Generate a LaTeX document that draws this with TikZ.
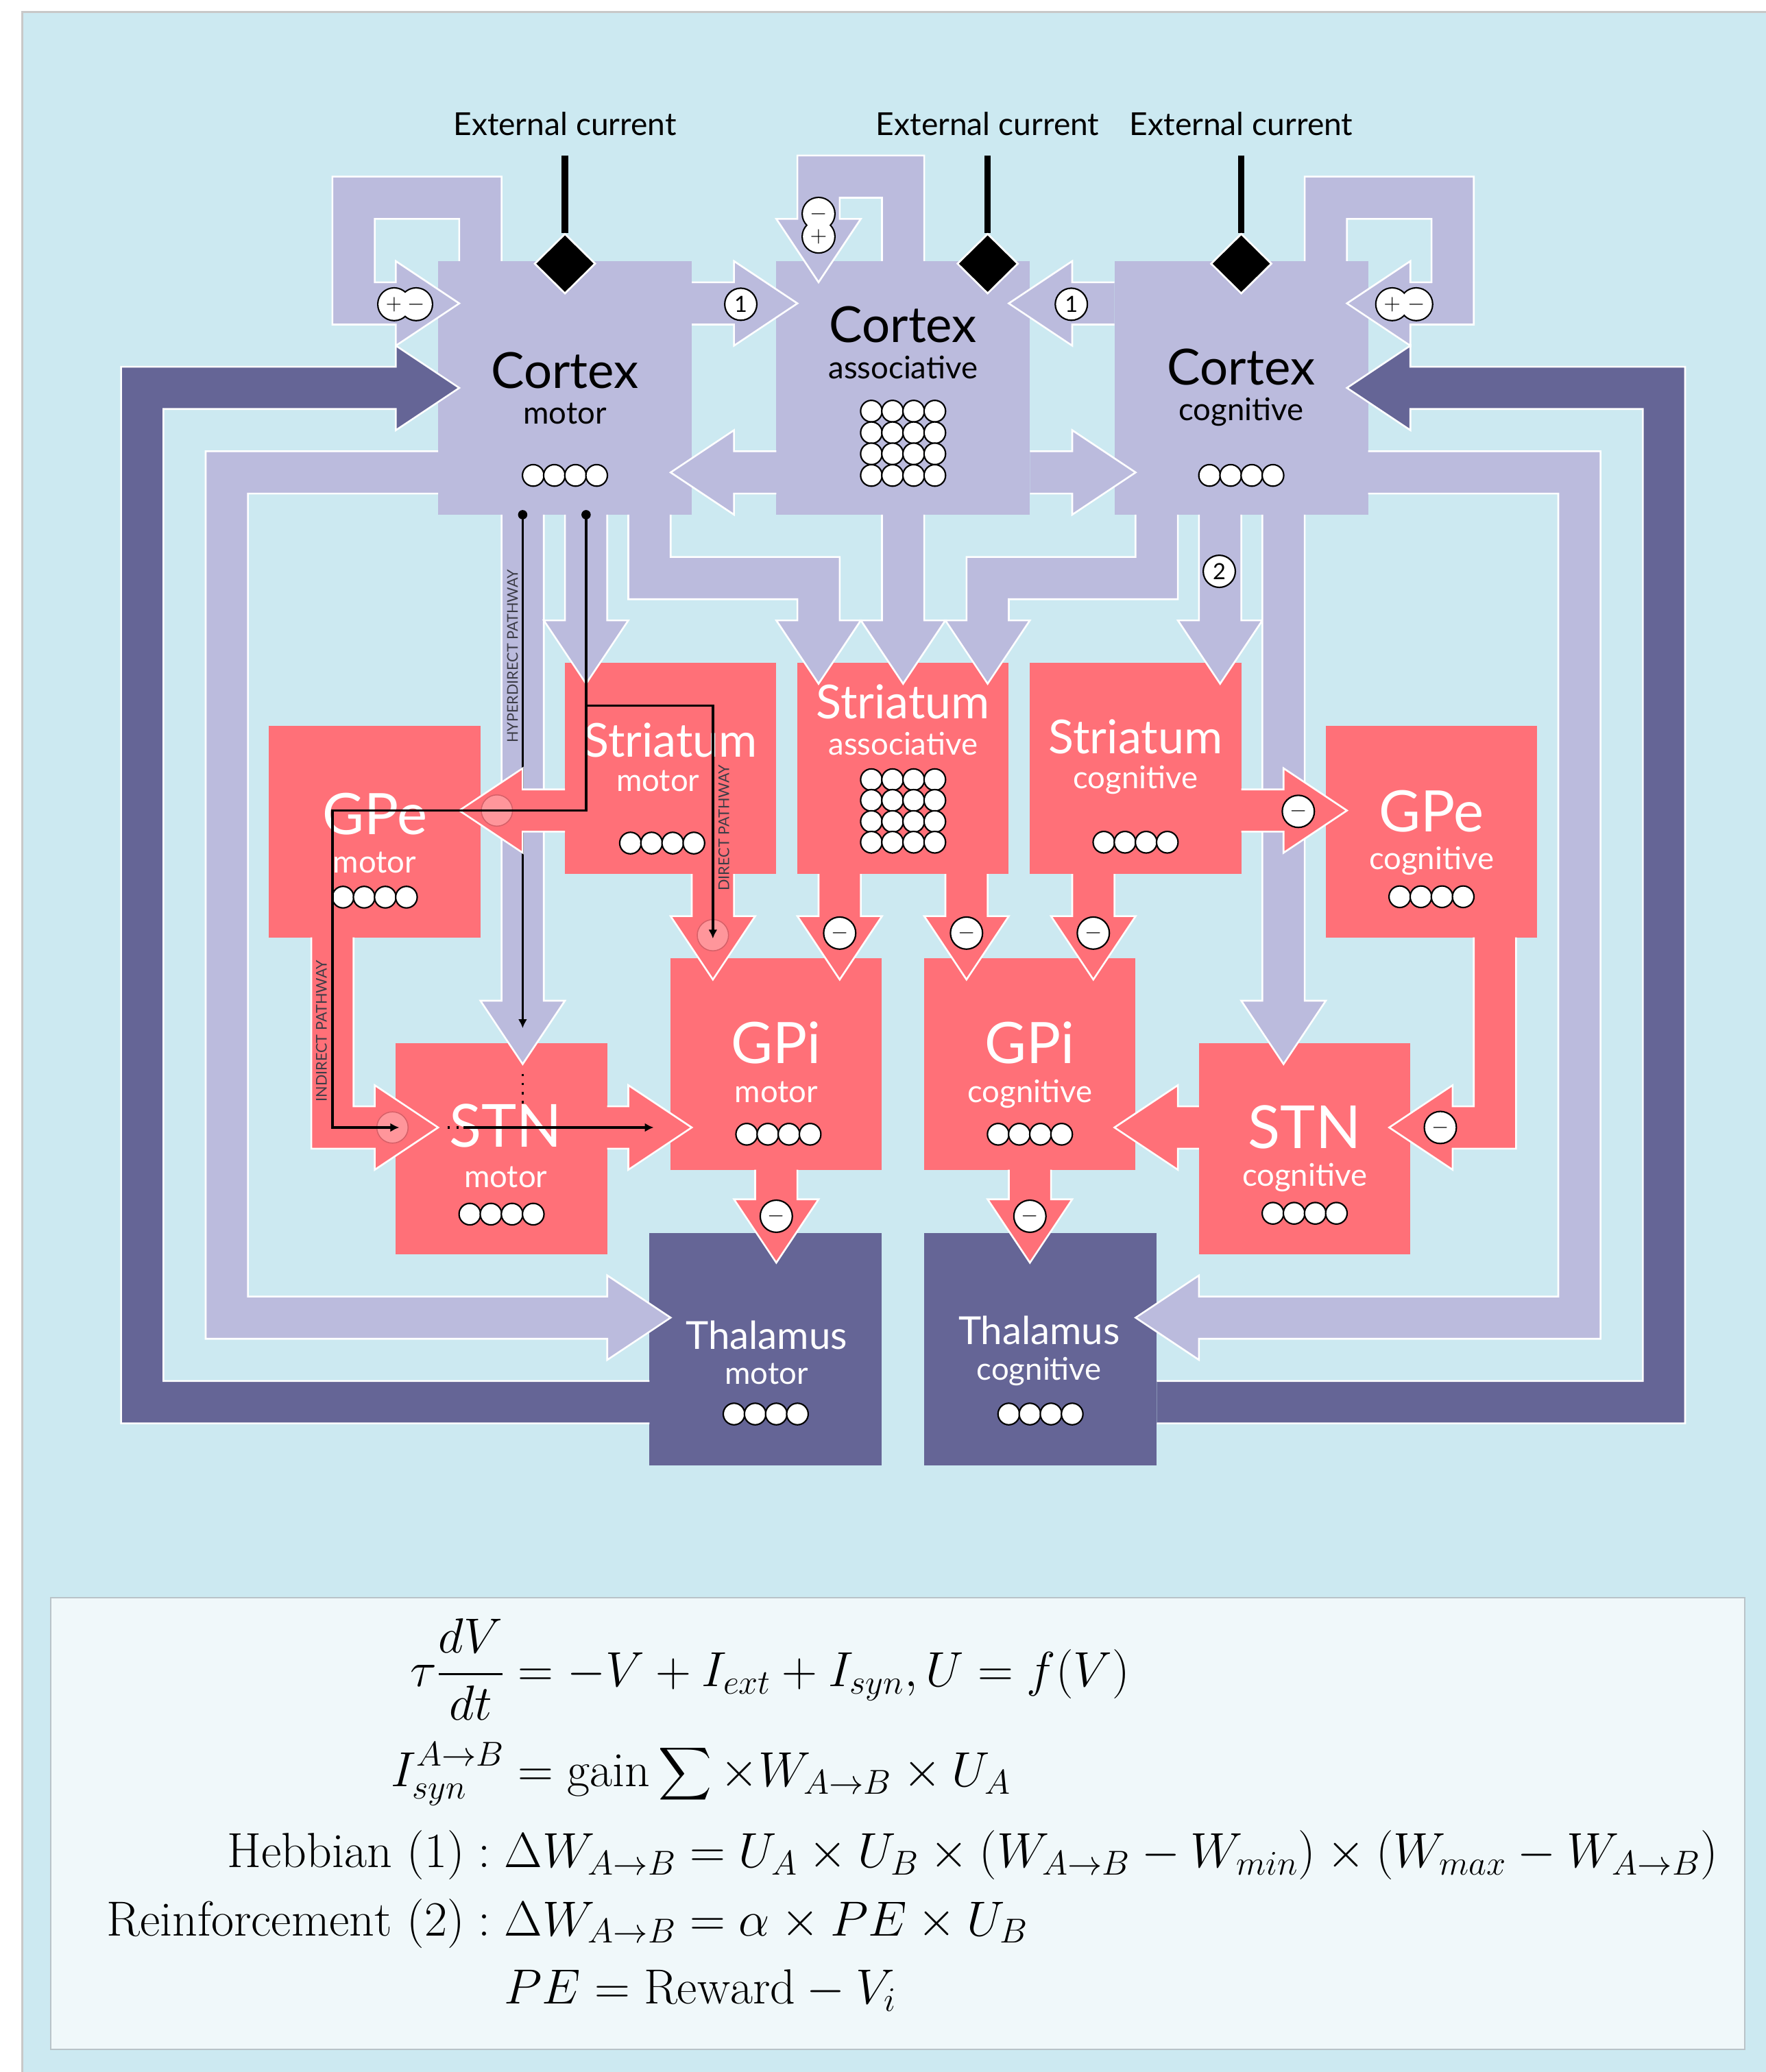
\documentclass[tikz,border=0pt]{standalone}
\usepackage{fix-cm}
\usepackage{amsmath}
\usepackage{fontspec}
\newfontfamily\gill{Lato}
\usetikzlibrary{shapes.geometric,arrows.meta}

\definecolor{bgblue}{RGB}{204,233,241}
\definecolor{framegray}{RGB}{200,200,200}
\definecolor{eqfill}{RGB}{240,248,250}
\definecolor{eqframe}{RGB}{185,195,200}
\definecolor{ctxcol}{RGB}{187,187,221}
\definecolor{thalcol}{RGB}{101,101,150}
\definecolor{gangcol}{RGB}{255,112,120}
\definecolor{ghostcol}{RGB}{255,150,155}
\definecolor{ghostedge}{RGB}{214,96,104}
\definecolor{pathtext}{RGB}{60,60,70}
\setlength{\jot}{5pt}

\begin{document}
\begin{tikzpicture}[x=1cm, y=-1cm]

    \tikzset{ctxbox/.style={rectangle, fill=ctxcol, inner sep=0pt, outer sep=0pt,%
      minimum width=6cm, minimum height=6cm}};
    \tikzset{gangbox/.style={ctxbox, fill=gangcol, minimum width=5cm, minimum height=5cm}};
    \tikzset{thalbox/.style={ctxbox, fill=thalcol, minimum width=5.5cm, minimum height=5.5cm}};
    \tikzset{band/.style={fill=#1, draw=white, line width=1.2pt, line join=miter}};
    \tikzset{bigname/.style={anchor=base, inner sep=0pt, font=\gill\fontsize{33.5}{36}\selectfont}};
    \tikzset{strname/.style={bigname, text=white, font=\gill\fontsize{31.5}{36}\selectfont}};
    \tikzset{gpname/.style={bigname, text=white, font=\gill\fontsize{38.5}{40}\selectfont}};
    \tikzset{stnname/.style={bigname, text=white, font=\gill\fontsize{40}{42}\selectfont}};
    \tikzset{thalname/.style={bigname, text=white, font=\gill\fontsize{26}{30}\selectfont}};
    \tikzset{subname/.style={anchor=base, inner sep=0pt, font=\gill\fontsize{21}{24}\selectfont}};
    \tikzset{whitesub/.style={subname, text=white}};
    \tikzset{extname/.style={anchor=base, inner sep=0pt, font=\gill\fontsize{21.3}{24}\selectfont}};
    \tikzset{extline/.style={line width=4.3pt}};
    \tikzset{extdiamond/.style={diamond, fill=black, draw=white, line width=1.2pt,%
      inner sep=0pt, minimum width=1.44cm, minimum height=1.42cm}};
    \tikzset{neuron/.style={fill=white, draw=black, line width=1pt}};
    \tikzset{badge/.style={circle, fill=white, draw=black, line width=1pt, inner sep=0pt,%
      minimum size=0.76cm, font=\gill\fontsize{15}{18}\selectfont}};
    \tikzset{badgefill/.style={badge, draw=none, minimum size=0.74cm}};
    \tikzset{ghost/.style={circle, fill=ghostcol, draw=ghostedge, line width=0.7pt,%
      inner sep=0pt, minimum size=0.74cm}};
    \tikzset{pathline/.style={line width=1.6pt, -{Latex[length=6pt, width=6pt]}}};
    \tikzset{pathdots/.style={line width=1.6pt, dash pattern=on 1.6pt off 4.5pt}};
    \tikzset{pathname/.style={rotate=90, inner sep=0pt, text=pathtext,%
      font=\gill\fontsize{10}{12}\selectfont}};

    \useasboundingbox (-0.365,-6.179) rectangle (41.40,42.85);

    %%%%%%%%%%%%%%
    % background %
    %%%%%%%%%%%%%%
    \fill[bgblue] (0.162,-5.895) rectangle (42,43.5);
    \draw[framegray, line width=1.5pt] (0.162,43.5) -- (0.162,-5.895) -- (42,-5.895);
    \draw[eqframe, fill=eqfill, line width=1pt] (0.835,31.62) rectangle (40.91,42.32);

    %%%%%%%%%%
    % blocks %
    %%%%%%%%%%
    \node[ctxbox] (ctxmotor) at (13,3) {};
    \node[ctxbox] (ctxassoc) at (21,3) {};
    \node[ctxbox] (ctxcog) at (29,3) {};

    \node[gangbox] (strmotor) at (15.5,12) {};
    \node[gangbox] (strassoc) at (21,12) {};
    \node[gangbox] (strcog) at (26.5,12) {};

    \node[gangbox] (gpemotor) at (8.5,13.5) {};
    \node[gangbox] (gpecog) at (33.5,13.5) {};

    \node[gangbox] (gpimotor) at (18,19) {};
    \node[gangbox] (gpicog) at (24,19) {};

    \node[gangbox] (stnmotor) at (11.5,21) {};
    \node[gangbox] (stncog) at (30.5,21) {};

    \node[thalbox] (thalmotor) at (17.75,25.75) {};
    \node[thalbox] (thalcog) at (24.25,25.75) {};

    %%%%%%%%%%%%%%%%%%%%
    % cortical arrows  %
    %%%%%%%%%%%%%%%%%%%%
    % self loops
    \path[band=ctxcol] (11.5,0) -- (11.5,-2) -- (7.5,-2) -- (7.5,1.5) -- (9,1.5) -- (9,2) -- (10.5,1)
      -- (9,0) -- (9,0.5) -- (8.5,0.5) -- (8.5,-1) -- (10.5,-1) -- (10.5,0);
    \path[band=ctxcol] (20.5,0) -- (20.5,-1.5) -- (19.5,-1.5) -- (19.5,-1) -- (20,-1) -- (19,0.5)
      -- (18,-1) -- (18.5,-1) -- (18.5,-2.5) -- (21.5,-2.5) -- (21.5,0);
    \path[band=ctxcol] (30.5,0) -- (30.5,-2) -- (34.5,-2) -- (34.5,1.5) -- (33,1.5) -- (33,2) -- (31.5,1)
      -- (33,0) -- (33,0.5) -- (33.5,0.5) -- (33.5,-1) -- (31.5,-1) -- (31.5,0);

    % cortex to cortex
    \path[band=ctxcol] (16,0.5) -- (17,0.5) -- (17,0) -- (18.5,1) -- (17,2) -- (17,1.5) -- (16,1.5);
    \path[band=ctxcol] (26,0.5) -- (25,0.5) -- (25,0) -- (23.5,1) -- (25,2) -- (25,1.5) -- (26,1.5);
    \path[band=ctxcol] (18,4.5) -- (17,4.5) -- (17,4) -- (15.5,5) -- (17,6) -- (17,5.5) -- (18,5.5);
    \path[band=ctxcol] (24,4.5) -- (25,4.5) -- (25,4) -- (26.5,5) -- (25,6) -- (25,5.5) -- (24,5.5);

    % cortex to thalamus
    \path[band=ctxcol] (10,4.5) -- (4.5,4.5) -- (4.5,25.5) -- (14,25.5) -- (14,26) -- (15.5,25)
      -- (14,24) -- (14,24.5) -- (5.5,24.5) -- (5.5,5.5) -- (10,5.5);
    \path[band=ctxcol] (32,4.5) -- (37.5,4.5) -- (37.5,25.5) -- (28,25.5) -- (28,26) -- (26.5,25)
      -- (28,24) -- (28,24.5) -- (36.5,24.5) -- (36.5,5.5) -- (32,5.5);

    % thalamus to cortex
    \path[band=thalcol] (15,26.5) -- (3.5,26.5) -- (3.5,3.5) -- (9,3.5) -- (9,4) -- (10.5,3)
      -- (9,2) -- (9,2.5) -- (2.5,2.5) -- (2.5,27.5) -- (15,27.5);
    \path[band=thalcol] (27,26.5) -- (38.5,26.5) -- (38.5,3.5) -- (33,3.5) -- (33,4) -- (31.5,3)
      -- (33,2) -- (33,2.5) -- (39.5,2.5) -- (39.5,27.5) -- (27,27.5);

    % cortex to striatum and STN
    \path[band=ctxcol] (11.5,6) -- (11.5,17.5) -- (11,17.5) -- (12,19) -- (13,17.5) -- (12.5,17.5) -- (12.5,6);
    \path[band=ctxcol] (13,6) -- (13,8.5) -- (12.5,8.5) -- (13.5,10) -- (14.5,8.5) -- (14,8.5) -- (14,6);
    \path[band=ctxcol] (14.5,6) -- (14.5,8) -- (18.5,8) -- (18.5,8.5) -- (18,8.5) -- (19,10) -- (20,8.5)
      -- (19.5,8.5) -- (19.5,7) -- (15.5,7) -- (15.5,6);
    \path[band=ctxcol] (20.5,6) -- (20.5,8.5) -- (20,8.5) -- (21,10) -- (22,8.5) -- (21.5,8.5) -- (21.5,6);
    \path[band=ctxcol] (27.5,6) -- (27.5,8) -- (23.5,8) -- (23.5,8.5) -- (24,8.5) -- (23,10) -- (22,8.5)
      -- (22.5,8.5) -- (22.5,7) -- (26.5,7) -- (26.5,6);
    \path[band=ctxcol] (28,6) -- (28,8.5) -- (27.5,8.5) -- (28.5,10) -- (29.5,8.5) -- (29,8.5) -- (29,6);
    \path[band=ctxcol] (29.5,6) -- (29.5,17.5) -- (29,17.5) -- (30,19) -- (31,17.5) -- (30.5,17.5) -- (30.5,6);

    % hyperdirect line
    \coordinate (hyperstart) at (12,6);
    \coordinate (hyperend) at (12,18.15);
    \draw[pathline] (hyperstart) -- (hyperend);
    \fill (hyperstart) circle (0.11);

    %%%%%%%%%%%%%%%%%%%
    % ganglia arrows  %
    %%%%%%%%%%%%%%%%%%%
    \path[band=gangcol] (13,12.5) -- (12,12.5) -- (12,12) -- (10.5,13) -- (12,14) -- (12,13.5) -- (13,13.5);
    \path[band=gangcol] (16,14.5) -- (16,15.5) -- (15.5,15.5) -- (16.5,17) -- (17.5,15.5) -- (17,15.5) -- (17,14.5);
    \path[band=gangcol] (19,14.5) -- (19,15.5) -- (18.5,15.5) -- (19.5,17) -- (20.5,15.5) -- (20,15.5) -- (20,14.5);
    \path[band=gangcol] (22,14.5) -- (22,15.5) -- (21.5,15.5) -- (22.5,17) -- (23.5,15.5) -- (23,15.5) -- (23,14.5);
    \path[band=gangcol] (25,14.5) -- (25,15.5) -- (24.5,15.5) -- (25.5,17) -- (26.5,15.5) -- (26,15.5) -- (26,14.5);
    \path[band=gangcol] (29,12.5) -- (30,12.5) -- (30,12) -- (31.5,13) -- (30,14) -- (30,13.5) -- (29,13.5);
    \path[band=gangcol] (7,16) -- (7,21) -- (8.5,21) -- (8.5,21.5) -- (10,20.5) -- (8.5,19.5) -- (8.5,20)
      -- (8,20) -- (8,16);
    \path[band=gangcol] (35.5,16) -- (35.5,21) -- (34,21) -- (34,21.5) -- (32.5,20.5) -- (34,19.5) -- (34,20)
      -- (34.5,20) -- (34.5,16);
    \path[band=gangcol] (14,20) -- (14.5,20) -- (14.5,19.5) -- (16,20.5) -- (14.5,21.5) -- (14.5,21) -- (14,21);
    \path[band=gangcol] (28,20) -- (27.5,20) -- (27.5,19.5) -- (26,20.5) -- (27.5,21.5) -- (27.5,21) -- (28,21);
    \path[band=gangcol] (17.5,21.5) -- (17.5,22.2) -- (17,22.2) -- (18,23.7) -- (19,22.2) -- (18.5,22.2) -- (18.5,21.5);
    \path[band=gangcol] (23.5,21.5) -- (23.5,22.2) -- (23,22.2) -- (24,23.7) -- (25,22.2) -- (24.5,22.2) -- (24.5,21.5);

    \node[ghost] (ghostgpe) at (11.39,13) {};
    \node[ghost] (ghostgpi) at (16.5,15.95) {};
    \node[ghost] (ghoststn) at (8.92,20.5) {};

    %%%%%%%%%%%%%%%%%%%%%%%
    % external currents   %
    %%%%%%%%%%%%%%%%%%%%%%%
    \foreach \ex/\nm in {13/extmotor, 23/extassoc, 29/extcog} {
      \node[extname] (\nm label) at (\ex,-2.98) {External current};
      \coordinate (\nm top) at (\ex,-2.5);
      \node[extdiamond] (\nm) at (\ex,0.06) {};
      \draw[extline] (\nm top) -- (\nm.north);
      \node[extdiamond] at (\nm) {};
    }

    %%%%%%%%%
    % names %
    %%%%%%%%%
    \node[bigname] (ctxmotorname) at (13,3.01) {Cortex};
    \node[subname] (ctxmotorsub) at (13,3.85) {motor};
    \node[bigname] (ctxassocname) at (21,1.92) {Cortex};
    \node[subname] (ctxassocsub) at (21,2.78) {associative};
    \node[bigname] (ctxcogname) at (29,2.93) {Cortex};
    \node[subname] (ctxcogsub) at (29,3.77) {cognitive};

    \node[strname] (strmotorname) at (15.5,11.73) {Striatum};
    \node[whitesub] (strmotorsub) at (15.2,12.55) {motor};
    \node[strname] (strassocname) at (21,10.82) {Striatum};
    \node[whitesub] (strassocsub) at (21,11.68) {associative};
    \node[strname] (strcogname) at (26.5,11.65) {Striatum};
    \node[whitesub] (strcogsub) at (26.5,12.48) {cognitive};

    \node[gpname] (gpemotorname) at (8.5,13.57) {GPe};
    \node[whitesub] (gpemotorsub) at (8.5,14.48) {motor};
    \node[gpname] (gpecogname) at (33.5,13.51) {GPe};
    \node[whitesub] (gpecogsub) at (33.5,14.4) {cognitive};

    \node[gpname] (gpimotorname) at (18,18.98) {GPi};
    \node[whitesub] (gpimotorsub) at (18,19.91) {motor};
    \node[gpname] (gpicogname) at (24,18.98) {GPi};
    \node[whitesub] (gpicogsub) at (24,19.91) {cognitive};

    \node[stnname] (stnmotorname) at (11.6,20.97) {STN};
    \node[whitesub] (stnmotorsub) at (11.6,21.92) {motor};
    \node[stnname] (stncogname) at (30.5,21.0) {STN};
    \node[whitesub] (stncogsub) at (30.5,21.88) {cognitive};

    \node[thalname] (thalmotorname) at (17.77,25.75) {Thalamus};
    \node[whitesub] (thalmotorsub) at (17.77,26.57) {motor};
    \node[thalname] (thalcogname) at (24.22,25.64) {Thalamus};
    \node[whitesub] (thalcogsub) at (24.22,26.47) {cognitive};

    %%%%%%%%%%%
    % neurons %
    %%%%%%%%%%%
    \foreach \cx/\cy in {13/5.07, 29/5.07, 15.3/13.77, 26.5/13.75, 8.5/15.05, 33.5/15.04,%
      18.05/20.66, 24/20.66, 11.5/22.55, 30.5/22.53, 17.75/27.28, 24.25/27.28}
      \foreach \k in {0,...,3}
        \draw[neuron] (\cx-0.75+0.5*\k, \cy) circle (0.255);
    \foreach \cy in {3.55, 4.06, 4.56, 5.07, 12.27, 12.76, 13.26, 13.75}
      \foreach \k in {0,...,3}
        \draw[neuron] (20.25+0.5*\k, \cy) circle (0.255);

    %%%%%%%%%%%%
    % pathways %
    %%%%%%%%%%%%
    \coordinate (dirstart) at (13.5,6);
    \coordinate (dirsplit) at (13.5,10.52);
    \coordinate (indirend) at (9.08,20.5);
    \coordinate (dirend) at (16.5,16.03);
    \coordinate (stnlinestart) at (10.22,20.5);
    \coordinate (stnlinemid) at (10.6,20.5);
    \coordinate (stnlineend) at (15.1,20.5);
    \coordinate (hyperdotstart) at (12,19.23);
    \coordinate (hyperdotend) at (12,19.98);

    \draw[pathline] (dirstart) -- (13.5,13) -- (7.5,13) -- (7.5,20.5) -- (indirend);
    \draw[pathline] (dirsplit) -- (16.5,10.52) -- (dirend);
    \fill (dirstart) circle (0.11);
    \draw[pathdots] (stnlinestart) -- (stnlinemid);
    \draw[pathline] (stnlinemid) -- (stnlineend);
    \draw[pathdots] (hyperdotstart) -- (hyperdotend);

    \node[pathname] (hyperlabel) at (11.76,9.35) {HYPERDIRECT PATHWAY};
    \node[pathname] (directlabel) at (16.76,13.41) {DIRECT PATHWAY};
    \node[pathname] (indirectlabel) at (7.24,18.22) {INDIRECT PATHWAY};

    %%%%%%%%%%
    % badges %
    %%%%%%%%%%
    \node[badge] (hebbmotor) at (17.16,1.02) {1};
    \node[badge] (hebbcog) at (24.98,1.02) {1};
    \node[badge] (reinfcog) at (28.48,7.34) {2};

    \draw[line width=2pt] (8.96,1.02) circle (0.37) (9.48,1.02) circle (0.37);
    \node[badgefill] (plusmotor) at (8.96,1.02) {$+$};
    \node[badgefill] (minusmotor) at (9.48,1.02) {$-$};
    \draw[line width=2pt] (32.57,1.02) circle (0.37) (33.14,1.02) circle (0.37);
    \node[badgefill] (pluscog) at (32.57,1.02) {$+$};
    \node[badgefill] (minuscog) at (33.14,1.02) {$-$};
    \draw[line width=2pt] (19,-1.12) circle (0.37) (19,-0.58) circle (0.37);
    \node[badgefill] (minusassoc) at (19,-1.12) {$-$};
    \node[badgefill] (plusassoc) at (19,-0.58) {$+$};

    \foreach \bx/\by/\nm in {19.5/15.9/inhgpim, 22.5/15.9/inhgpic, 25.5/15.9/inhgpicc,%
      30.35/13.02/inhgpec, 33.71/20.5/inhstnc, 18/22.6/inhthalm, 24/22.6/inhthalc}
      \node[badge] (\nm) at (\bx,\by) {$-$};

    %%%%%%%%%%%%%
    % equations %
    %%%%%%%%%%%%%
    \node[anchor=west, inner sep=0pt, font=\fontsize{33.2}{41}\selectfont] (eqs) at (2.15,36.9) {$\begin{aligned}
      \tau\frac{dV}{dt} &= -V + I_{ext} + I_{syn}, U = f(V)\\[9pt]
      I_{syn}^{A\rightarrow B} &= \mathrm{gain}\sum\times W_{A\rightarrow B}\times U_A\\[7pt]
      \mathrm{Hebbian}\ (1) : {} &\Delta W_{A\rightarrow B} = U_A\times U_B\times(W_{A\rightarrow B}-W_{min})\times(W_{max}-W_{A\rightarrow B})\\
      \mathrm{Reinforcement}\ (2) : {} &\Delta W_{A\rightarrow B} = \alpha\times PE\times U_B\\
      &PE = \mathrm{Reward}-V_i
    \end{aligned}$};

\end{tikzpicture}
\end{document}
